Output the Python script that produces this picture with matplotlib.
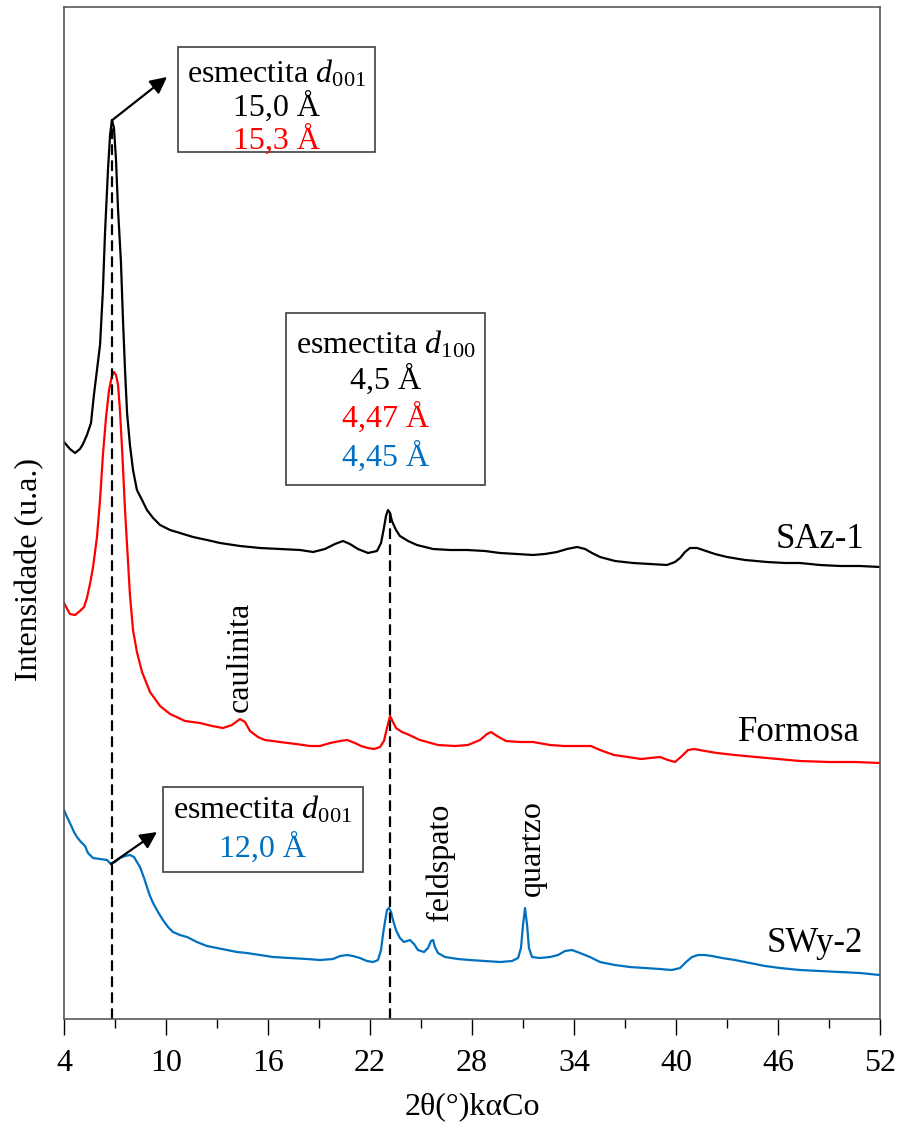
import numpy as np
import matplotlib
matplotlib.use('Agg')
import matplotlib.pyplot as plt
from matplotlib.patches import Rectangle

plt.rcParams['font.family'] = ['Liberation Serif', 'DejaVu Serif']
plt.rcParams['mathtext.fontset'] = 'custom'
plt.rcParams['mathtext.rm'] = 'Liberation Serif'
plt.rcParams['mathtext.it'] = 'Liberation Serif:italic'

# SAz-1 (black)
saz_x = [4.00, 4.35, 4.65, 4.94, 5.12, 5.35, 5.59, 5.76, 5.94, 6.12, 6.29, 6.41, 6.59, 6.71, 6.82, 6.94,
         7.06, 7.18, 7.35, 7.47, 7.59, 7.71, 7.88, 8.06, 8.29, 8.59, 8.88, 9.24, 9.65, 10.24, 10.82, 11.59,
         12.41, 13.18, 14.35, 15.53, 16.71, 17.88, 18.65, 19.35, 19.94, 20.41, 20.82, 21.29, 21.88, 22.41,
         22.65, 22.82, 22.94, 23.06, 23.18, 23.29, 23.53, 23.76, 24.24, 24.76, 25.71, 26.71, 27.71, 28.76,
         29.65, 30.65, 31.59, 32.29, 33.00, 33.59, 34.18, 34.65, 35.06, 35.53, 36.41, 37.47, 38.47, 39.47,
         39.94, 40.24, 40.53, 40.82, 41.24, 41.59, 42.29, 43.00, 44.06, 45.35, 46.41, 47.29, 48.47, 49.65,
         50.82, 52.00]
saz_y = [577, 570, 566, 570, 575, 584, 596, 624, 649, 674, 729, 785, 850, 884, 899, 891,
         859, 809, 757, 699, 649, 606, 574, 549, 529, 519, 509, 501, 494, 489, 486, 482,
         479, 476, 473, 471, 470, 469, 467, 470, 475, 478, 475, 470, 466, 468,
         476, 491, 503, 509, 506, 498, 489, 483, 478, 474, 470, 469, 469, 468,
         466, 465, 464, 465, 467, 470, 472, 470, 466, 462, 458, 456, 455, 454,
         457, 461, 467, 471, 471, 469, 465, 462, 459, 457, 456, 456, 454, 453,
         453, 452]

# Formosa (red)
for_x = [4.00, 4.35, 4.65, 4.94, 5.18, 5.35, 5.53, 5.71, 5.94, 6.12, 6.29, 6.47, 6.65, 6.82, 6.94, 7.06,
         7.18, 7.29, 7.41, 7.59, 7.76, 7.88, 8.06, 8.29, 8.59, 9.06, 9.65, 10.24, 11.12, 12.00, 12.71,
         13.35, 13.88, 14.35, 14.65, 14.94, 15.41, 15.82, 16.71, 17.65, 18.47, 19.06, 19.65, 20.24, 20.65,
         21.12, 21.47, 21.88, 22.24, 22.59, 22.82, 23.00, 23.18, 23.35, 23.53, 23.88, 24.18, 24.94, 26.00,
         27.00, 27.76, 28.47, 28.88, 29.12, 29.47, 30.00, 30.82, 31.59, 32.59, 33.41, 34.35, 35.00, 35.53,
         36.35, 37.18, 37.94, 38.47, 39.06, 39.53, 39.94, 40.35, 40.71, 41.06, 41.71, 42.41, 43.47, 44.71,
         46.00, 47.29, 49.06, 50.53, 52.00]
for_y = [416, 405, 404, 408, 412, 421, 435, 452, 482, 519, 564, 601, 629, 643, 647, 644,
         634, 609, 572, 509, 459, 424, 389, 367, 347, 327, 313, 305, 298, 296, 293,
         291, 294, 300, 297, 288, 282, 279, 277, 275, 273, 273, 276, 278, 279,
         276, 273, 271, 270, 272, 278, 291, 303, 297, 291, 287, 285, 279, 274,
         273, 274, 279, 285, 287, 283, 278, 277, 277, 274, 273, 273, 273, 269,
         264, 262, 260, 261, 262, 259, 257, 263, 269, 270, 268, 266, 264, 262,
         260, 258, 257, 257, 256]

# SWy-2 (blue)
swy_x = [4.00, 4.18, 4.35, 4.59, 4.76, 5.00, 5.24, 5.41, 5.71, 6.12, 6.53, 6.76, 7.00, 7.29, 7.59, 7.88,
         8.12, 8.29, 8.47, 8.71, 8.88, 9.06, 9.24, 9.53, 9.82, 10.12, 10.41, 10.82, 11.24, 11.82, 12.41,
         13.00, 13.59, 14.18, 14.76, 15.53, 16.29, 17.29, 18.29, 19.06, 19.82, 20.24, 20.65, 21.00, 21.41,
         21.82, 22.18, 22.47, 22.65, 22.76, 22.88, 23.00, 23.12, 23.24, 23.35, 23.53, 23.76, 24.00, 24.35,
         24.59, 24.82, 25.18, 25.41, 25.59, 25.71, 25.82, 26.00, 26.41, 27.18, 27.88, 28.76, 29.65, 30.35,
         30.71, 30.88, 31.00, 31.12, 31.24, 31.35, 31.53, 32.00, 32.59, 33.06, 33.47, 33.88, 34.35, 34.94,
         35.53, 36.41, 37.29, 38.18, 39.06, 39.76, 40.24, 40.59, 40.94, 41.29, 41.71, 42.12, 42.71, 43.47,
         44.35, 45.24, 46.12, 47.29, 48.47, 49.65, 50.82, 52.00]
swy_y = [209, 202, 196, 187, 182, 177, 173, 166, 161, 160, 159, 155, 157, 161, 163, 164,
         162, 157, 152, 141, 132, 123, 116, 107, 99, 92, 87, 84, 82, 77, 73,
         71, 69, 67, 66, 64, 62, 61, 60, 59, 60, 63, 64, 63, 61,
         58, 57, 59, 69, 84, 97, 109, 111, 107, 99, 89, 81, 77, 79,
         75, 69, 67, 71, 78, 79, 72, 66, 62, 60, 59, 58, 57, 58,
         61, 71, 94, 111, 94, 71, 62, 61, 62, 64, 68, 69, 66, 62,
         57, 54, 52, 51, 50, 49, 51, 57, 62, 64, 64, 63, 61, 59,
         56, 53, 51, 49, 48, 47, 46, 44]

series = [(saz_x, saz_y, 'black', 'SAz-1'),
          (for_x, for_y, '#ff0000', 'Formosa'),
          (swy_x, swy_y, '#0070c0', 'SWy-2')]
label_pos = [(51.1, 479), (50.8, 287), (51.0, 76)]

fig = plt.figure(figsize=(9.09, 11.24), dpi=100)
ax = fig.add_axes([0.0704, 0.0934, 0.8977, 0.9004])

for (x, y, c, name), (lx, ly) in zip(series, label_pos):
    ax.plot(x, y, color=c, lw=1.6)
    ax.text(lx, ly, name, ha='right', va='center', fontsize=25)

# dashed reference lines
ax.plot([6.8, 6.8], [0, 899], color='black', lw=1.6, ls=(0, (4.8, 2.4)))
ax.plot([23.2, 23.2], [0, 506], color='black', lw=1.6, ls=(0, (4.8, 2.4)))

fs = 23
# box 1
ax.add_patch(Rectangle((10.71, 867), 11.58, 105, fill=False, ec='#404040', lw=1.2))
ax.text(16.5, 945, r'esmectita $d_{\mathrm{001}}$', ha='center', va='center', fontsize=fs)
ax.text(16.5, 912, '15,0 Å', ha='center', va='center', fontsize=fs, color='black')
ax.text(16.5, 879, '15,3 Å', ha='center', va='center', fontsize=fs, color='#ff0000')
ax.annotate('', xy=(10.06, 942), xytext=(6.85, 899),
            arrowprops=dict(arrowstyle='-|>', color='black', lw=1.6, mutation_scale=25,
                            shrinkA=0, shrinkB=0))

# box 2
ax.add_patch(Rectangle((17.06, 534), 11.70, 172, fill=False, ec='#404040', lw=1.2))
ax.text(22.91, 674, r'esmectita $d_{\mathit{100}}$', ha='center', va='center', fontsize=fs)
ax.text(22.91, 639, '4,5 Å', ha='center', va='center', fontsize=fs, color='black')
ax.text(22.91, 601, '4,47 Å', ha='center', va='center', fontsize=fs, color='#ff0000')
ax.text(22.91, 562, '4,45 Å', ha='center', va='center', fontsize=fs, color='#0070c0')

# box 3
ax.add_patch(Rectangle((9.82, 147), 11.77, 85, fill=False, ec='#404040', lw=1.2))
ax.text(15.7, 209, r'esmectita $d_{\mathrm{001}}$', ha='center', va='center', fontsize=fs)
ax.text(15.7, 171, '12,0 Å', ha='center', va='center', fontsize=fs, color='#0070c0')
ax.annotate('', xy=(9.47, 187), xytext=(6.76, 155),
            arrowprops=dict(arrowstyle='-|>', color='black', lw=1.6, mutation_scale=25,
                            shrinkA=0, shrinkB=0))

# phase labels
ax.text(14.35, 307, 'caulinita', rotation=90, ha='center', va='bottom', fontsize=fs)
ax.text(26.12, 157, 'feldspato', rotation=90, ha='center', va='center', fontsize=fs)
ax.text(31.53, 171, 'quartzo', rotation=90, ha='center', va='center', fontsize=fs)

ax.set_xlim(4, 52)
ax.set_ylim(0, 1012)
ax.set_xticks(np.arange(4, 53, 6))
ax.set_xticks(np.arange(7, 52, 6), minor=True)
ax.tick_params(axis='x', which='major', direction='out', length=11.5, width=1, labelsize=fs,
               pad=10, top=False)
ax.tick_params(axis='x', which='minor', direction='out', length=6.5, width=1)
ax.set_yticks([])
for s in ax.spines.values():
    s.set_color('#595959')
    s.set_linewidth(1.2)
ax.set_xlabel('2θ(°)kαCo', fontsize=fs, labelpad=10)
ax.set_ylabel('Intensidade (u.a.)', fontsize=fs)
ax.yaxis.set_label_coords(-0.024, 0.444)

fig.savefig('out.png', dpi=100)
